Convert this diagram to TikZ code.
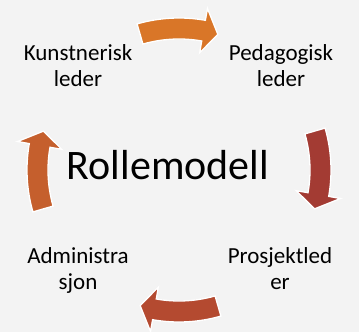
\documentclass[tikz,border=0pt]{standalone}
\usepackage{fontspec}
\setmainfont{Carlito}
\usetikzlibrary{calc}
\definecolor{bgc}{HTML}{F3F3F3}
\definecolor{aTop}{HTML}{D97628}
\definecolor{aRight}{HTML}{A33B33}
\definecolor{aBottom}{HTML}{B44A30}
\definecolor{aLeft}{HTML}{C55F2D}
\newcommand{\cycarrow}[2]{%
  % #1 colour, #2 axis angle (arrow runs clockwise)
  \fill[#1,draw=white,line width=1.3pt,line join=miter]
    ($(C)+(#2+16:152)$) arc[start angle=#2+16,end angle=#2-10,radius=152]
    -- ($(C)+(#2-10:164)$) -- ($(C)+(#2-16:141)$) -- ($(C)+(#2-10:119)$)
    -- ($(C)+(#2-10:131)$) arc[start angle=#2-10,end angle=#2+16,radius=131]
    -- cycle;}
\tikzset{
  lbl/.style={font=\fontsize{23}{26}\selectfont,align=center,anchor=base,inner sep=0pt,text=black},
  big/.style={font=\fontsize{42}{48}\selectfont,anchor=base,inner sep=0pt,text=black}
}
\begin{document}
\begin{tikzpicture}[x=1pt,y=1pt]
\fill[bgc] (0,0) rectangle (359,332);
\useasboundingbox (0,0) rectangle (359,332);
\coordinate (C) at (179,162);
\cycarrow{aTop}{90}
\cycarrow{aRight}{0}
\cycarrow{aBottom}{-90}
\cycarrow{aLeft}{180}
\node[big] (center) at (168,152) {Rollemodell};
\node[lbl] (kl) at (78,245) {Kunstnerisk\\leder};
\node[lbl] (pl) at (281,245) {Pedagogisk\\leder};
\node[lbl] (pr) at (280,42) {Prosjektled\\er};
\node[lbl] (ad) at (78,42) {Administra\\sjon};
\end{tikzpicture}
\end{document}
